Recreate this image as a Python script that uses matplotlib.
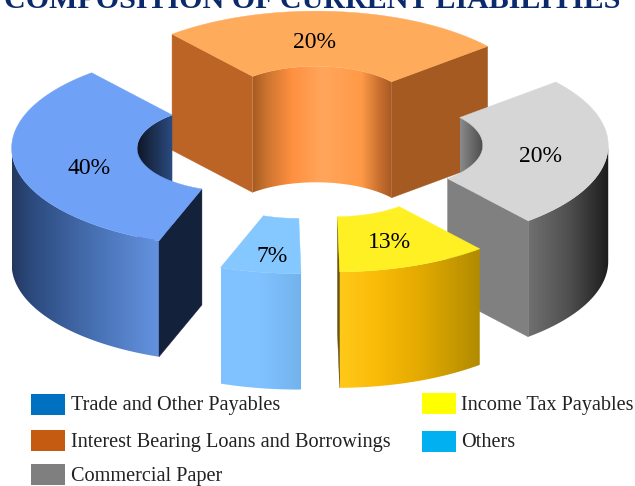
import numpy as np
import matplotlib
matplotlib.use("Agg")
import matplotlib.pyplot as plt
from matplotlib.colors import to_rgb
from matplotlib.patches import Polygon

# ---- data ----
categories = ["Trade and Other Payables", "Interest Bearing Loans and Borrowings",
              "Commercial Paper", "Income Tax Payables", "Others"]
share_labels = ["40%", "20%", "20%", "13%", "7%"]
drawn_sweep_deg = [120, 90, 90, 39, 21]   # angular width of each slice as drawn
first_slice_start_deg = 200               # clockwise from north
title = "COMPOSITION OF CURRENT LIABILITIES"

# ---- layout / style ----
W, H = 635, 486
CX, CY = 309.5, 142.5
A, B = 224, 98.5
INNER = 0.44
EXPLODE = 75
DEPTH = 116
K = B / A
legend_colors = ["#0070C0", "#C55A11", "#7F7F7F", "#FFFF00", "#00B0F0"]
top_colors = ["#6FA1F7", "#FFAB5C", "#D6D6D6", "#FFF024", "#85C7FF"]
start_wall = ["#14213A", "#BC6426", None, None, None]
end_wall = [None, "#A55A22", "#808080", "#6E5400", None]
outer_grad = [
    [(0, "#24385F"), (0.13, "#2B4A7E"), (0.6, "#4A74B8"), (1, "#6593E0")],
    None,
    [(0, "#707070"), (0.5, "#505050"), (1, "#1C1C1C")],
    [(0, "#FFC91A"), (0.25, "#FBBB08"), (0.6, "#E0A800"), (1, "#B08A00")],
    [(0, "#80C2FF"), (0.5, "#80C2FF"), (1, "#72B3EC")],
]
inner_grad = [
    [(0, "#0E1626"), (1, "#2C4C82")],
    [(0, "#A85C22"), (0.1, "#CC7430"), (0.28, "#FF9040"), (0.5, "#FFA65C"),
     (0.78, "#FF9A48"), (0.91, "#C87030"), (1, "#A85A22")],
    [(0, "#8A8A8A"), (1, "#4A4A4A")],
    None, None,
]
label_xy = [(89, 168), (315, 42), (541, 156), (389, 242), (272, 256)]
draw_order = [1, 0, 2, 3, 4]

plt.rcParams["font.family"] = ["Liberation Serif", "DejaVu Serif"]
fig = plt.figure(figsize=(W / 100, H / 100), dpi=100)
ax = fig.add_axes([0, 0, 1, 1])
ax.set_xlim(0, W)
ax.set_ylim(H, 0)
ax.axis("off")


def pt(c, r, deg):
    t = np.radians(deg)
    return np.column_stack([c[0] + r * np.sin(t), c[1] - r * K * np.cos(t)])


def arc(c, r, t0, t1, n=80):
    return pt(c, r, np.linspace(t0, t1, n))


def grad_fill(poly, stops, z):
    x0, x1 = poly[:, 0].min(), poly[:, 0].max()
    y0, y1 = poly[:, 1].min(), poly[:, 1].max()
    u = np.linspace(0, 1, 256)
    pos = [s[0] for s in stops]
    rgb = np.array([to_rgb(s[1]) for s in stops])
    img = np.stack([np.interp(u, pos, rgb[:, i]) for i in range(3)], axis=-1)[None, :, :]
    im = ax.imshow(img, extent=[x0, x1, y1, y0], aspect="auto", zorder=z,
                   interpolation="bilinear")
    p = Polygon(poly, closed=True, transform=ax.transData, fc="none", ec="none")
    ax.add_patch(p)
    im.set_clip_path(p)


def overlap(t0, t1, lo, hi):
    out = []
    for shift in (-360, 0, 360):
        a, b = max(t0, lo + shift), min(t1, hi + shift)
        if b - a > 0.01:
            out.append((a, b))
    return out


starts = first_slice_start_deg + np.concatenate([[0], np.cumsum(drawn_sweep_deg)[:-1]])
for rank, i in enumerate(draw_order):
    t0 = float(starts[i])
    t1 = t0 + drawn_sweep_deg[i]
    mid = np.radians((t0 + t1) / 2)
    c = (CX + EXPLODE * np.sin(mid), CY - EXPLODE * K * np.cos(mid))
    ri = A * INNER
    z = 10 * (rank + 1)
    down = np.array([0, DEPTH])

    # inner wall (back half of the hole faces the viewer)
    for a, b in overlap(t0, t1, -90, 90):
        top = arc(c, ri, a, b)
        grad_fill(np.vstack([top, (top + down)[::-1]]), inner_grad[i], z)
    # outer wall (front half)
    for a, b in overlap(t0, t1, 90, 270):
        top = arc(c, A, a, b)
        grad_fill(np.vstack([top, (top + down)[::-1]]), outer_grad[i], z + 1)
    # radial cut walls
    for ang, col in ((t0, start_wall[i]), (t1, end_wall[i])):
        if col:
            p = np.vstack([pt(c, ri, ang), pt(c, A, ang)])
            ax.add_patch(Polygon(np.vstack([p, (p + down)[::-1]]), closed=True,
                                 fc=col, ec=col, lw=0.3, zorder=z + 2))
    # top face
    face = np.vstack([arc(c, A, t0, t1), arc(c, ri, t1, t0)])
    ax.add_patch(Polygon(face, closed=True, fc=top_colors[i], ec=top_colors[i],
                         lw=0.3, zorder=z + 3))

for (x, y), s in zip(label_xy, share_labels):
    ax.text(x, y, s, ha="center", va="center", fontsize=17, color="black", zorder=100)

ax.text(312, 7.5, title, ha="center", va="baseline", fontsize=21.6, fontweight="bold",
        color="#0B2A6B", zorder=100, clip_on=False)

legend_pos = [(31, 394), (31, 430), (31, 464), (422, 393), (422, 431)]
text_center_y = [405.5, 442.5, 476.5, 405.5, 442.5]
for (x, y), col, name, ty in zip(legend_pos, legend_colors, categories, text_center_y):
    ax.add_patch(Polygon([(x, y), (x + 34, y), (x + 34, y + 21), (x, y + 21)], closed=True,
                         fc=col, ec="none", zorder=100))
    ax.text(x + 40 - (1 if x > 400 else 0), ty, name, ha="left", va="center", fontsize=14.6,
            color="#222222", zorder=100)

ax.set_xlim(0, W)
ax.set_ylim(H, 0)
fig.savefig("out.png", dpi=100, facecolor="white")
